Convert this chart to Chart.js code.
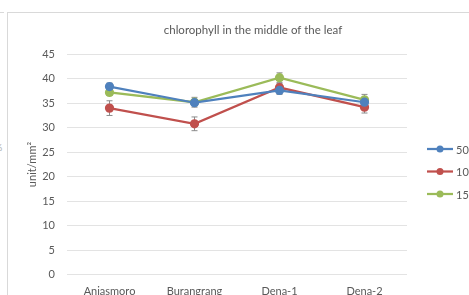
<!DOCTYPE html>
<html>
<head>
<meta charset="utf-8">
<script src="https://cdn.jsdelivr.net/npm/chart.js@4"></script>
<style>
  html, body { margin: 0; padding: 0; background: #fff; }
  body { width: 469px; height: 295px; overflow: hidden; position: relative; }
  #frame { position: absolute; left: 7px; top: 12px; width: 490px; height: 287px;
           border: 1px solid #d9d9d9; background: #fff; }
  #stub { position: absolute; left: 0; top: 12px; width: 4px; height: 0; border-top: 1px solid #d9d9d9; }
  .frag { position: absolute; left: -5px; font: 9px Lato, sans-serif; color: #a6a6a6; }
</style>
</head>
<body>
<div id="stub"></div>
<span class="frag" style="top:142px">%</span>
<span class="frag" style="top:163px">x</span>
<span class="frag" style="top:185px">x</span>
<div id="frame"><canvas id="myLineChart"></canvas></div>
<script>
const categories = ["Anjasmoro", "Burangrang", "Dena-1", "Dena-2"];
const seriesNames = ["50", "100", "150"];
const values50 = [38.4, 35.1, 37.6, 35.2];
const values100 = [34.0, 30.8, 38.2, 34.2];
const values150 = [37.2, 35.2, 40.2, 35.7];
const err50 = [0.7, 0.6, 0.8, 0.6];
const err100 = [1.5, 1.4, 0.8, 1.2];
const err150 = [0.6, 1.0, 1.0, 1.1];
const yTicks = [0, 5, 10, 15, 20, 25, 30, 35, 40, 45];

const colors = ["#4f81bd", "#c0504d", "#9bbb59"];
const textColor = "#595959";
const fontFamily = "Lato, 'Open Sans', sans-serif";

function makeSet(i, data, err) {
  return {
    label: seriesNames[i],
    data: data,
    errors: err,
    borderColor: colors[i],
    backgroundColor: colors[i],
    pointBackgroundColor: colors[i],
    pointBorderColor: colors[i],
    pointRadius: 3.5,
    borderWidth: 2.25,
    tension: 0,
    fill: false,
  };
}

// grey error bars with caps, drawn through the chart's own scales
const errorBars = {
  id: "errorBars",
  beforeDatasetsDraw(chart) {
    const c = chart.ctx;
    const y = chart.scales.y;
    c.save();
    c.strokeStyle = "#8c8c8c";
    c.lineWidth = 1;
    chart.data.datasets.forEach((ds, i) => {
      const meta = chart.getDatasetMeta(i);
      meta.data.forEach((pt, j) => {
        const e = ds.errors[j];
        const top = y.getPixelForValue(ds.data[j] + e);
        const bot = y.getPixelForValue(ds.data[j] - e);
        c.beginPath();
        c.moveTo(pt.x, top); c.lineTo(pt.x, bot);
        c.moveTo(pt.x - 3, top); c.lineTo(pt.x + 3, top);
        c.moveTo(pt.x - 3, bot); c.lineTo(pt.x + 3, bot);
        c.stroke();
      });
    });
    c.restore();
  },
};

// legend on the right, cut off by the picture edge like the original
const sideLegend = {
  id: "sideLegend",
  afterDraw(chart) {
    const c = chart.ctx;
    const x0 = chart.chartArea.right + 20;
    const yStart = 136;
    c.save();
    c.font = "11px " + fontFamily;
    c.textBaseline = "middle";
    chart.data.datasets.forEach((ds, i) => {
      const yy = yStart + i * 22.5;
      c.strokeStyle = ds.borderColor;
      c.lineWidth = 2.25;
      c.beginPath(); c.moveTo(x0, yy); c.lineTo(x0 + 26, yy); c.stroke();
      c.fillStyle = ds.borderColor;
      c.beginPath(); c.arc(x0 + 13, yy, 3.5, 0, Math.PI * 2); c.fill();
      c.fillStyle = textColor;
      c.fillText(ds.label, x0 + 29, yy + 1);
    });
    c.restore();
  },
};

const ctx = document.getElementById("myLineChart").getContext("2d");
const myLineChart = new Chart(ctx, {
  type: "line",
  data: {
    labels: categories,
    datasets: [
      makeSet(0, values50, err50),
      makeSet(1, values100, err100),
      makeSet(2, values150, err150),
    ],
  },
  plugins: [errorBars, sideLegend],
  options: {
    responsive: true,
    maintainAspectRatio: false,
    animation: false,
    layout: { padding: { left: 0, right: 0, top: 4, bottom: 0 } },
    plugins: {
      legend: { display: false },
      tooltip: { enabled: false },
      title: {
        display: true,
        text: "chlorophyll in the middle of the leaf",
        color: textColor,
        font: { family: fontFamily, size: 11.5, weight: "normal" },
        padding: { top: 6, bottom: 17.4 },
      },
    },
    scales: {
      x: {
        offset: true,
        grid: { display: false },
        border: { display: false },
        ticks: { color: textColor, font: { family: fontFamily, size: 11 }, padding: 2 },
      },
      y: {
        min: 0,
        max: 45,
        afterBuildTicks: (axis) => { axis.ticks = yTicks.map((v) => ({ value: v })); },
        afterFit: (axis) => { axis.width = 59; },
        grid: { color: "#e3e3e3", drawTicks: false },
        border: { display: false },
        ticks: { color: textColor, font: { family: fontFamily, size: 11 }, padding: 12 },
        title: {
          display: true,
          text: "unit/mm²",
          color: textColor,
          font: { family: fontFamily, size: 11 },
          padding: { top: 18, bottom: 0 },
        },
      },
      // empty right-hand box that keeps room for the legend
      yRight: {
        type: "linear",
        position: "right",
        afterFit: (axis) => { axis.width = 91; },
        grid: { display: false },
        border: { display: false },
        ticks: { display: false },
      },
    },
  },
});
</script>
</body>
</html>
